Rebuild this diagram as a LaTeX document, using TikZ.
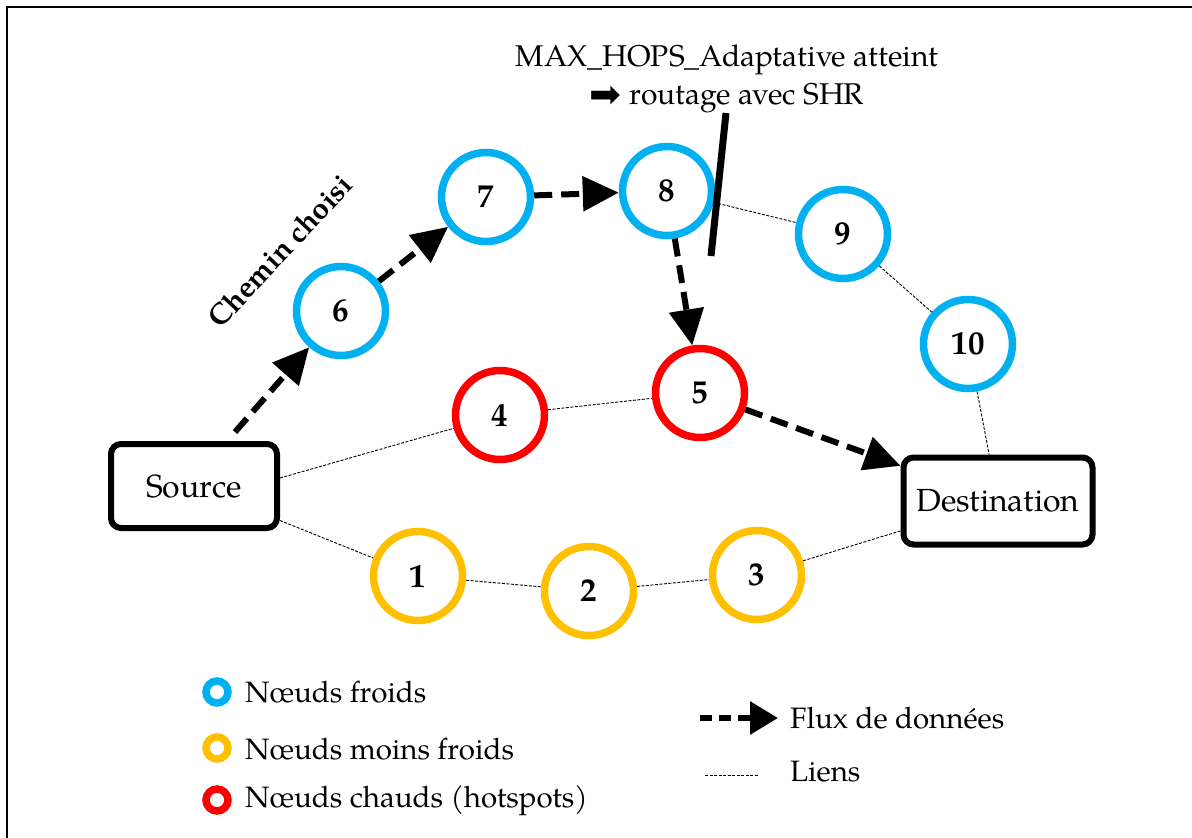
\documentclass[tikz,border=0pt]{standalone}
\usepackage{fontspec}
\setmainfont{texgyrepagella}[Extension=.otf, UprightFont=*-regular, BoldFont=*-bold, ItalicFont=*-italic, BoldItalicFont=*-bolditalic]
\newfontfamily\symfont{DejaVu Sans}
\usetikzlibrary{arrows.meta}
\definecolor{froid}{RGB}{0,176,240}
\definecolor{tiede}{RGB}{255,192,0}
\definecolor{chaud}{RGB}{255,0,0}
\tikzset{
  noeud/.style={circle, line width=7.5pt, minimum size=89pt, inner sep=0pt, fill=white,
    font=\fontsize{33}{36}\selectfont\bfseries},
  boite/.style={draw, rounded corners=10pt, line width=6pt, inner sep=0pt,
    font=\fontsize{32}{36}\selectfont},
  flux/.style={line width=6pt, dash pattern=on 18pt off 9pt,
    -{Triangle[length=36pt,width=34pt]}},
  lien/.style={line width=0.9pt, dash pattern=on 3pt off 1.5pt},
  legtxt/.style={anchor=west, inner sep=0pt, font=\fontsize{29.5}{34}\selectfont},
  pastille/.style={circle, line width=7.5pt, minimum size=22pt, inner sep=0pt},
}
\begin{document}
\begin{tikzpicture}[x=1pt, y=-1pt]
\useasboundingbox (0,0) rectangle (1192,838);
\clip (0,0) rectangle (1192,838);
% cadre
\draw[line width=2pt] (7,900) -- (7,7) -- (1250,7);

% noeuds
\node[boite, minimum width=166pt, minimum height=84pt] (src) at (194,486) {Source};
\node[boite, minimum width=189pt, minimum height=87pt] (dst) at (998,501) {Destination};

\node[noeud, draw=tiede] (n1) at (418,576) {1};
\node[noeud, draw=tiede] (n2) at (589,591) {2};
\node[noeud, draw=tiede] (n3) at (757,575) {3};
\node[noeud, draw=chaud] (n4) at (500,415) {4};
\node[noeud, draw=chaud] (n5) at (700,393) {5};
\node[noeud, draw=froid] (n6) at (341,311) {6};
\node[noeud, draw=froid] (n7) at (486,197) {7};
\node[noeud, draw=froid] (n8) at (667,191) {8};
\node[noeud, draw=froid] (n9) at (843,234) {9};
\node[noeud, draw=froid] (n10) at (968,344) {10};

% liens
\draw[lien] (src.east) ++(0,-8) coordinate (s4) -- (n4);
\draw[lien] (src) -- (n1);
\draw[lien] (n1) -- (n2);
\draw[lien] (n2) -- (n3);
\draw[lien] (n3) -- (dst);
\draw[lien] (n4) -- (n5);
\draw[lien] (n8) -- (n9);
\draw[lien] (n9) -- (n10);
\draw[lien] (n10) -- (dst);

% flux de donnees
\coordinate (depart) at (235,432);
\draw[flux] (depart) -- (n6);
\draw[flux] (n6) -- (n7);
\draw[flux] (n7) -- (n8);
\draw[flux] (n8) -- (n5);
\draw[flux] (n5) -- (dst);

% coupure
\coordinate (c1) at (726,113);
\coordinate (c2) at (711,256);
\draw[line width=7pt] (c1) -- (c2);

\node[font=\fontsize{30}{38}\selectfont, align=center, inner sep=0pt] (seuil) at (727,79)
  {MAX\_HOPS\_Adaptative atteint\\\raisebox{-3pt}{\symfont\fontsize{38}{30}\selectfont ➡} routage avec SHR};

\node[font=\fontsize{29.5}{32}\selectfont\bfseries, rotate=47, inner sep=0pt] (chemin) at (280,251) {Chemin choisi};

% legende
\node[pastille, draw=froid] (p1) at (217,692) {};
\node[pastille, draw=tiede] (p2) at (217,748) {};
\node[pastille, draw=chaud] (p3) at (217,800) {};
\node[legtxt] (l1) at (245,692) {Nœuds froids};
\node[legtxt] (l2) at (245,749) {Nœuds moins froids};
\node[legtxt] (l3) at (245,801) {Nœuds chauds (hotspots)};

\coordinate (fa) at (700,718);
\coordinate (fb) at (778,718);
\draw[line width=6pt, dash pattern=on 12pt off 7pt, -{Triangle[length=28pt,width=32pt]}] (fa) -- (fb);
\node[legtxt] (l4) at (790,718) {Flux de données};
\coordinate (la) at (705,775);
\coordinate (lb) at (758,775);
\draw[lien] (la) -- (lb);
\node[legtxt] (l5) at (790,772) {Liens};
\end{tikzpicture}
\end{document}
